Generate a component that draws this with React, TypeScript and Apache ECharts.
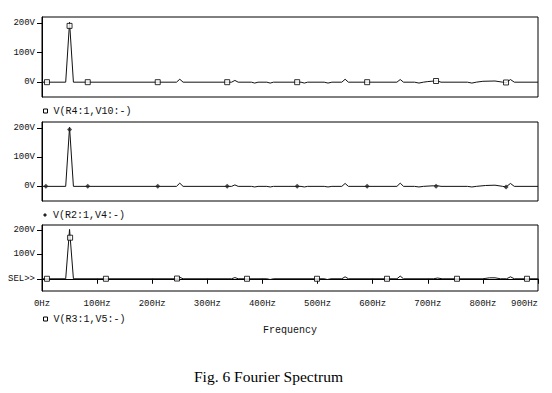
import React, { useEffect, useRef } from "react";
import * as echarts from "echarts";

// ---- data (frequency in Hz, amplitude in V) ----
const seriesNames = ["V(R4:1,V10:-)", "V(R2:1,V4:-)", "V(R3:1,V5:-)"];

const trace1: number[][] = [
  [0, 0], [43, 0], [50, 202], [57, 0],
  [244, 0], [250, 10], [256, 0],
  [344, 0], [350, 6], [356, 0],
  [380, 0], [386, -3], [392, 0], [408, 0], [414, -3], [420, 0],
  [470, 0], [476, -3], [482, 0], [512, 0], [519, -3], [526, 0],
  [544, 0], [550, 10], [556, 0],
  [644, 0], [650, 9], [656, 0],
  [676, 0], [684, -3], [692, 0], [700, 2], [712, 4], [718, 4], [724, 0],
  [772, 0], [780, -3], [788, 0], [800, 3], [822, 4], [836, 0], [842, -2], [850, 9], [857, 0],
  [900, 0],
];
const trace2: number[][] = [
  [0, 0], [43, 0], [50, 202], [57, 0],
  [244, 0], [250, 11], [256, 0],
  [344, 0], [350, 5], [356, 0],
  [380, 0], [386, -2], [392, 0], [408, 0], [414, -2], [420, 0],
  [470, 0], [476, -2], [482, 0], [512, 0], [519, -2], [526, 0],
  [544, 0], [550, 10], [556, 0],
  [644, 0], [650, 11], [656, 0],
  [676, 0], [684, -2], [692, 0], [710, 2], [718, 2], [724, 0],
  [772, 0], [780, -2], [788, 0], [805, 3], [822, 4], [836, 0], [842, -2], [850, 10], [857, 0],
  [900, 0],
];
const trace3: number[][] = [
  [0, 0], [43, 0], [50, 202], [57, 0],
  [244, 0], [250, 6], [256, 0],
  [344, 0], [350, 5], [356, 0],
  [408, 0], [414, -3], [420, 0],
  [512, 0], [518, -3], [524, 0],
  [544, 0], [550, 8], [556, 0],
  [644, 0], [650, 11], [656, 0],
  [710, 0], [718, 3], [726, 0],
  [800, 0], [812, 4], [822, 4], [832, 0], [843, 0], [850, 8], [857, 0],
  [900, 0],
];
const traces = [trace1, trace2, trace3];

const markers1: number[][] = [[9, 0], [50, 190], [83, 0], [210, 0], [336, 0], [463, 0], [590, 0], [715, 4], [842, -1]];
const markers2: number[][] = [[7, 0], [50, 194], [83, 0], [210, 0], [336, 0], [463, 0], [590, 0], [715, 0], [842, -2]];
const markers3: number[][] = [[9, 0], [51, 168], [116, 0], [245, 1], [372, 0], [499, 0], [626, 0], [753, 0], [880, 0]];
const markerSets = [markers1, markers2, markers3];

const yTickValues = [0, 100, 200];
const xMin = 0;
const xMax = 900;
const xStep = 100;
const yMin = -50;
const yMax = 220;
const xTitle = "Frequency";
const caption = "Fig. 6 Fourier Spectrum";

// ---- layout ----
const MONO = "Liberation Mono";
const grids = [
  { top: 17, height: 80 },
  { top: 122, height: 79 },
  { top: 225, height: 66 },
];
const legendTops = [106, 210, 314];
const markerSymbols = ["rect", "diamond", "rect"];

export default function App() {
  const ref = useRef<HTMLDivElement>(null);
  useEffect(() => {
    if (!ref.current) return;
    const chart = echarts.init(ref.current, undefined, { renderer: "svg" });
    const markerStyle = (i: number) =>
      markerSymbols[i] === "rect"
        ? { color: "#fff", borderColor: "#000", borderWidth: 1 }
        : { color: "#222", borderColor: "#222", borderWidth: 0 };
    const option: any = {
      animation: false,
      title: {
        text: caption,
        left: 194,
        top: 368,
        padding: 0,
        textStyle: { fontFamily: "Liberation Serif", fontSize: 15.5, fontWeight: "normal", color: "#000" },
      },
      grid: grids.map((g) => ({
        left: 42,
        width: 496,
        top: g.top,
        height: g.height,
        show: true,
        borderColor: "#000",
        borderWidth: 1,
        backgroundColor: "transparent",
      })),
      xAxis: grids.map((_, i) => ({
        type: "value",
        gridIndex: i,
        min: xMin,
        max: xMax,
        interval: xStep,
        show: i === 2,
        axisLine: { show: true, lineStyle: { color: "#000", width: 1 } },
        axisTick: { show: true, inside: false, length: 5, lineStyle: { color: "#000" } },
        axisLabel: {
          margin: 8,
          fontFamily: MONO,
          fontSize: 9,
          color: "#111",
          alignMaxLabel: "right",
          formatter: (v: number) => `${v}Hz`,
        },
        splitLine: { show: false },
        name: i === 2 ? xTitle : "",
        nameLocation: "middle",
        nameGap: 34,
        nameTextStyle: { fontFamily: MONO, fontSize: 10, color: "#111" },
      })),
      yAxis: grids.map((_, i) => ({
        type: "value",
        gridIndex: i,
        min: yMin,
        max: yMax,
        axisLine: { show: true, lineStyle: { color: "#000", width: 1 } },
        axisTick: { show: true, inside: false, length: 5, customValues: yTickValues, lineStyle: { color: "#000" } },
        axisLabel: {
          margin: 7,
          fontFamily: MONO,
          fontSize: 9,
          color: "#111",
          customValues: yTickValues,
          formatter: (v: number) => (i === 2 && v === 0 ? "SEL>>" : `${v}V`),
        },
        splitLine: { show: false },
      })),
      legend: grids.map((_, i) => ({
        left: 43,
        top: legendTops[i],
        padding: 0,
        itemWidth: 4,
        itemHeight: 4,
        selectedMode: false,
        textStyle: { fontFamily: MONO, fontSize: 10, color: "#111", padding: [0, 0, 0, 1] },
        data: [{ name: seriesNames[i], icon: markerSymbols[i], itemStyle: markerStyle(i) }],
      })),
      series: [
        ...traces.map((t, i) => ({
          name: seriesNames[i],
          type: "line",
          xAxisIndex: i,
          yAxisIndex: i,
          data: t,
          showSymbol: false,
          symbol: "none",
          lineStyle: { color: "#111", width: 1 },
          itemStyle: { color: "#111" },
          emphasis: { disabled: true },
        })),
        ...markerSets.map((m, i) => ({
          name: "marker" + i,
          type: "scatter",
          xAxisIndex: i,
          yAxisIndex: i,
          data: m,
          symbol: markerSymbols[i],
          symbolSize: 5,
          itemStyle: markerStyle(i),
          z: 5,
          emphasis: { disabled: true },
        })),
      ],
    };
    chart.setOption(option);
    return () => chart.dispose();
  }, []);
  return (
    <div
      ref={ref}
      style={{ position: "absolute", left: 0, top: 0, width: 552, height: 393, background: "#fff" }}
    />
  );
}
